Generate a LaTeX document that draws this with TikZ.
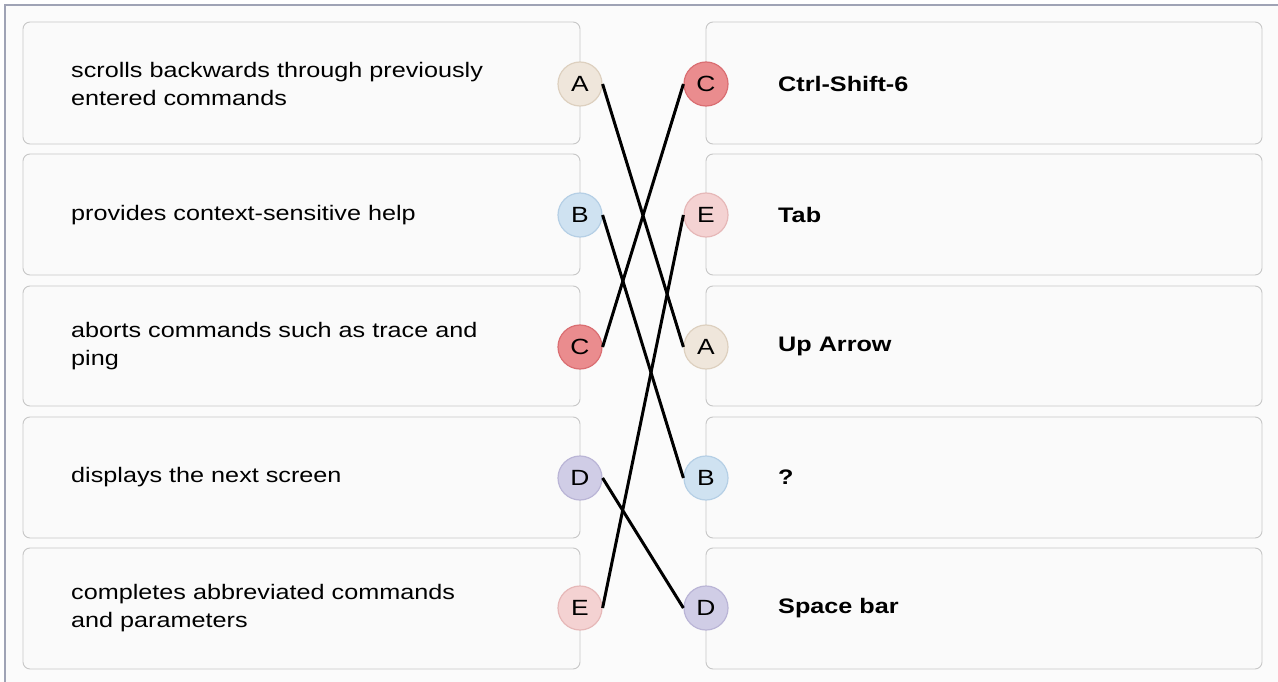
\documentclass[tikz,border=0pt]{standalone}
\usepackage{fontspec}
\setmainfont{Liberation Sans}[FakeStretch=1.2]
\begin{document}
\begin{tikzpicture}[x=1pt,y=-1pt,
  card/.style={draw=black!22, fill=black!2, rounded corners=7pt, line width=0.9pt},
  lbl/.style={anchor=west, align=left, font=\fontsize{21}{28}\selectfont, inner sep=0pt},
  rlbl/.style={anchor=west, font=\fontsize{21}{28}\selectfont\bfseries, inner sep=0pt},
  dot/.style={circle, minimum size=44pt, inner sep=0pt, line width=1.2pt, font=\fontsize{22}{24}\selectfont},
  link/.style={line width=3pt, black}]
\definecolor{cA}{HTML}{EFE6DB}\definecolor{bA}{HTML}{DDD0BF}
\definecolor{cB}{HTML}{CFE2F1}\definecolor{bB}{HTML}{B5CFE5}
\definecolor{cC}{HTML}{EA8C8E}\definecolor{bC}{HTML}{DA6E72}
\definecolor{cD}{HTML}{D0CDE6}\definecolor{bD}{HTML}{BAB5D6}
\definecolor{cE}{HTML}{F4D2D2}\definecolor{bE}{HTML}{E6B8B8}
\definecolor{frame}{HTML}{9FA3B5}
\useasboundingbox (0,0) rectangle (1278,682);
\fill[black!1.5] (5,5) rectangle (1278,682);
\draw[frame, line width=1.5pt] (5,682) -- (5,5) -- (1278,5);
% cards
\foreach \t/\b in {22/144,154/275,286/406,417/538,548/669}{
  \draw[card] (23,\t) rectangle (580,\b);
  \draw[card] (706,\t) rectangle (1262,\b);
}
% left texts
\node[lbl] (t1) at (71,84) {scrolls backwards through previously\\entered commands};
\node[lbl] (t2) at (71,215) {provides context-sensitive help};
\node[lbl] (t3) at (71,346) {aborts commands such as trace and\\ping};
\node[lbl] (t4) at (71,477) {displays the next screen};
\node[lbl] (t5) at (71,608) {completes abbreviated commands\\and parameters};
% right texts
\node[rlbl] (r1) at (778,84) {Ctrl-Shift-6};
\node[rlbl] (r2) at (778,215) {Tab};
\node[rlbl] (r3) at (778,346) {Up Arrow};
\node[rlbl] (r4) at (778,477) {?};
\node[rlbl] (r5) at (778,608) {Space bar};
% left circles
\node[dot, fill=cA, draw=bA] (lA) at (580,84) {A};
\node[dot, fill=cB, draw=bB] (lB) at (580,215) {B};
\node[dot, fill=cC, draw=bC] (lC) at (580,347) {C};
\node[dot, fill=cD, draw=bD] (lD) at (580,478) {D};
\node[dot, fill=cE, draw=bE] (lE) at (580,608) {E};
% right circles
\node[dot, fill=cC, draw=bC] (rC) at (706,84) {C};
\node[dot, fill=cE, draw=bE] (rE) at (706,215) {E};
\node[dot, fill=cA, draw=bA] (rA) at (706,347) {A};
\node[dot, fill=cB, draw=bB] (rB) at (706,478) {B};
\node[dot, fill=cD, draw=bD] (rD) at (706,608) {D};
% links
\draw[link] (lA.east) -- (rA.west);
\draw[link] (lB.east) -- (rB.west);
\draw[link] (lC.east) -- (rC.west);
\draw[link] (lD.east) -- (rD.west);
\draw[link] (lE.east) -- (rE.west);
\end{tikzpicture}
\end{document}
